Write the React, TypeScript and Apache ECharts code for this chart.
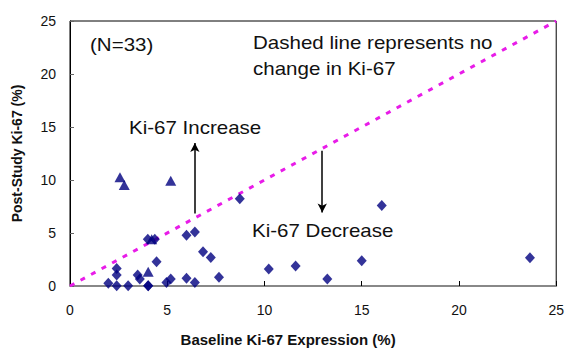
import React, { useEffect, useRef } from "react";
import * as echarts from "echarts";

const xTicks = [0, 5, 10, 15, 20, 25];
const yTicks = [0, 5, 10, 15, 20, 25];

const triangleX = [2.57, 2.79, 5.18, 4.02, 4.2];
const triangleY = [10.25, 9.54, 9.94, 1.34, 4.4];

const diamondX = [8.73, 5.99, 6.42, 6.84, 7.24, 7.66, 4.45, 2.4, 2.4, 1.97, 2.4, 2.99, 3.48, 3.59, 4.02, 4.96, 5.18, 5.99, 6.42, 4.0, 4.36, 10.22, 11.6, 13.23, 15.0, 16.03, 23.65, 4.02];
const diamondY = [8.22, 4.78, 5.1, 3.22, 2.69, 0.82, 2.28, 1.66, 1.03, 0.25, 0.03, 0.03, 1.03, 0.66, 0.03, 0.34, 0.66, 0.72, 0.34, 4.4, 4.4, 1.6, 1.88, 0.66, 2.38, 7.6, 2.66, 0.03];

const refLineX = [0, 25];
const refLineY = [0, 25];

const increaseArrow = [[6.42, 6.85], [6.42, 13.5]];
const decreaseArrow = [[12.97, 12.76], [12.97, 6.94]];

const FONT = "Liberation Sans, Arial, sans-serif";

export default function App() {
  const ref = useRef<HTMLDivElement>(null);
  useEffect(() => {
    if (!ref.current) return;
    const chart = echarts.init(ref.current, null, { renderer: "svg" });
    const txt = (x: number, y: number, text: string) => ({
      type: "text",
      x,
      y,
      scaleX: 1.14,
      style: { text, fontSize: 18, fontFamily: FONT, fill: "#111", textVerticalAlign: "middle" },
    });
    chart.setOption({
      animation: false,
      backgroundColor: "#fff",
      grid: { left: 70, right: 10, top: 21, bottom: 68, show: true, borderColor: "#000", borderWidth: 1 },
      xAxis: {
        type: "value",
        min: xTicks[0],
        max: xTicks[xTicks.length - 1],
        interval: 5,
        name: "Baseline Ki-67 Expression (%)",
        nameLocation: "middle",
        nameGap: 46,
        nameTextStyle: { fontSize: 15, fontWeight: "bold", fontFamily: FONT, color: "#111", padding: [0, 50, 0, 0] },
        axisLine: { show: true, lineStyle: { color: "#888", width: 2 } },
        axisTick: { show: true, inside: true, length: 5, lineStyle: { color: "#000" } },
        axisLabel: { fontSize: 14, fontFamily: FONT, color: "#111", margin: 17 },
        splitLine: { show: false },
      },
      yAxis: {
        type: "value",
        min: yTicks[0],
        max: yTicks[yTicks.length - 1],
        interval: 5,
        name: "Post-Study Ki-67 (%)",
        nameLocation: "middle",
        nameGap: 46,
        nameTextStyle: { fontSize: 14, fontWeight: "bold", fontFamily: FONT, color: "#111" },
        axisLine: { show: true, lineStyle: { color: "#000", width: 1 } },
        axisTick: { show: true, inside: true, length: 4, lineStyle: { color: "#666" } },
        axisLabel: { fontSize: 14, fontFamily: FONT, color: "#111", margin: 14 },
        splitLine: { show: false },
      },
      series: [
        {
          type: "line",
          data: refLineX.map((x, i) => [x, refLineY[i]]),
          showSymbol: false,
          symbol: "none",
          lineStyle: { color: "#E81CE8", width: 3, type: [5, 7] },
          z: 1,
          markLine: {
            silent: true,
            symbol: ["none", "arrow"],
            symbolSize: [7, 9],
            label: { show: false },
            lineStyle: { color: "#000", width: 1.5, type: "solid" },
            data: [
              [{ coord: increaseArrow[0] }, { coord: increaseArrow[1] }],
              [{ coord: decreaseArrow[0] }, { coord: decreaseArrow[1] }],
            ],
          },
        },
        {
          type: "scatter",
          data: diamondX.map((x, i) => [x, diamondY[i]]),
          symbol: "diamond",
          symbolSize: [10, 11],
          itemStyle: { color: "#000080" },
          z: 3,
        },
        {
          type: "scatter",
          data: triangleX.map((x, i) => [x, triangleY[i]]),
          symbol: "triangle",
          symbolSize: [11, 10],
          itemStyle: { color: "#000080" },
          z: 3,
        },
      ],
      graphic: [
        txt(90, 45, "(N=33)"),
        txt(253, 43, "Dashed line represents no"),
        txt(253, 69, "change in Ki-67"),
        txt(129, 128, "Ki-67 Increase"),
        txt(252, 231, "Ki-67 Decrease"),
      ],
    });
    return () => chart.dispose();
  }, []);
  return <div ref={ref} style={{ width: 567, height: 354, position: "absolute", left: 0, top: 0 }} />;
}
